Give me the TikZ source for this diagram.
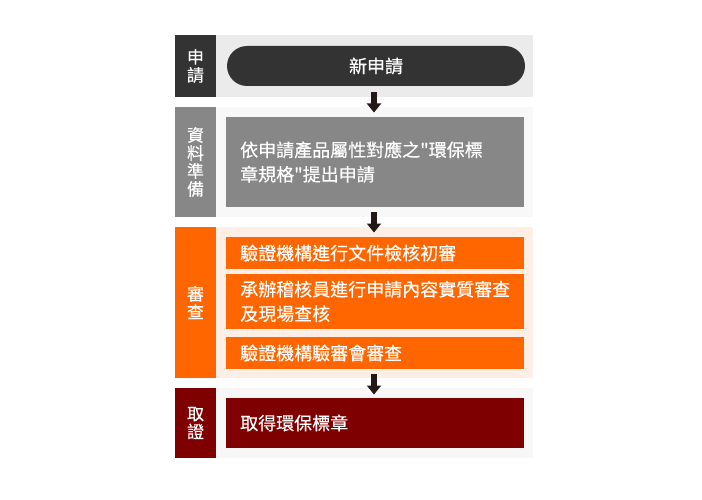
\documentclass[tikz,border=0pt]{standalone}
\usepackage{fontspec}
\setmainfont{Noto Sans CJK TC}[FakeBold=0.35, Ligatures=TeXOff]
\usetikzlibrary{arrows.meta}
\definecolor{cDark}{HTML}{333333}
\definecolor{cBg1}{HTML}{EBEBEB}
\definecolor{cGray}{HTML}{878787}
\definecolor{cBg2}{HTML}{F8F8F8}
\definecolor{cOrange}{HTML}{FF6600}
\definecolor{cBg3}{HTML}{FDEFE5}
\definecolor{cRed}{HTML}{7F0000}
\definecolor{cBg4}{HTML}{F7F7F7}
\definecolor{cArrow}{HTML}{231815}
\tikzset{
  rect/.style={draw=none, rectangle, inner sep=0pt, outer sep=0pt},
  lbltext/.style={text=white, align=center, font=\fontsize{17}{18}\selectfont, inner sep=0pt},
  boxtext/.style={text=white, align=left, anchor=west, font=\fontsize{18}{24.5}\selectfont, inner sep=0pt},
  flow/.style={draw=cArrow, line width=6.5pt, -{Triangle[width=14pt,length=9pt]}},
}
\begin{document}
\begin{tikzpicture}[x=1pt,y=-1pt]
\useasboundingbox (0,0) rectangle (702,500);
\fill[white] (0,0) rectangle (702,500);
% band 1
\fill[cBg1] (216,35) rectangle (533,97);
\node[rect, fill=cDark, minimum width=41pt, minimum height=62pt] (l1) at (195.5,66) {};
\node[lbltext] at (l1) {申\\請};
\node[rect, fill=cDark, rounded corners=20pt, minimum width=298pt, minimum height=40pt, text=white, font=\fontsize{18}{24}\selectfont] (p1) at (376,66) {新申請};
% band 2
\fill[cBg2] (216,107) rectangle (533,217);
\node[rect, fill=cGray, minimum width=41pt, minimum height=110pt] (l2) at (195.5,162) {};
\node[lbltext] at (l2) {資\\料\\準\\備};
\node[rect, fill=cGray, minimum width=298pt, minimum height=90pt] (b2) at (375,162) {};
\node[boxtext] (t2) at ([xshift=14pt]b2.west) {依申請產品屬性對應之"環保標\\章規格"提出申請};
% band 3
\fill[cBg3] (216,227) rectangle (533,378);
\node[rect, fill=cOrange, minimum width=41pt, minimum height=151pt] (l3) at (195.5,302.5) {};
\node[lbltext] at (l3) {審\\查};
\node[rect, fill=cOrange, minimum width=298pt, minimum height=32pt] (b3a) at (375,253) {};
\node[boxtext] (t3a) at ([xshift=14pt]b3a.west) {驗證機構進行文件檢核初審};
\node[rect, fill=cOrange, minimum width=298pt, minimum height=55pt] (b3b) at (375,301.5) {};
\node[boxtext] (t3b) at ([xshift=14pt]b3b.west) {承辦稽核員進行申請內容實質審查\\及現場查核};
\node[rect, fill=cOrange, minimum width=298pt, minimum height=32pt] (b3c) at (375,353) {};
\node[boxtext] (t3c) at ([xshift=14pt]b3c.west) {驗證機構驗審會審查};
% band 4
\fill[cBg4] (216,388) rectangle (533,458);
\node[rect, fill=cRed, minimum width=41pt, minimum height=70pt] (l4) at (195.5,423) {};
\node[lbltext] at (l4) {取\\證};
\node[rect, fill=cRed, minimum width=298pt, minimum height=50pt] (b4) at (375,423) {};
\node[boxtext] (t4) at ([xshift=14pt]b4.west) {取得環保標章};
% arrows
\coordinate (a1s) at (374,92);
\coordinate (a1e) at (374,112.5);
\coordinate (a2s) at (374,212);
\coordinate (a2e) at (374,232.5);
\coordinate (a3s) at (374,374);
\coordinate (a3e) at (374,394.5);
\draw[flow] (a1s) -- (a1e);
\draw[flow] (a2s) -- (a2e);
\draw[flow] (a3s) -- (a3e);
\end{tikzpicture}
\end{document}
